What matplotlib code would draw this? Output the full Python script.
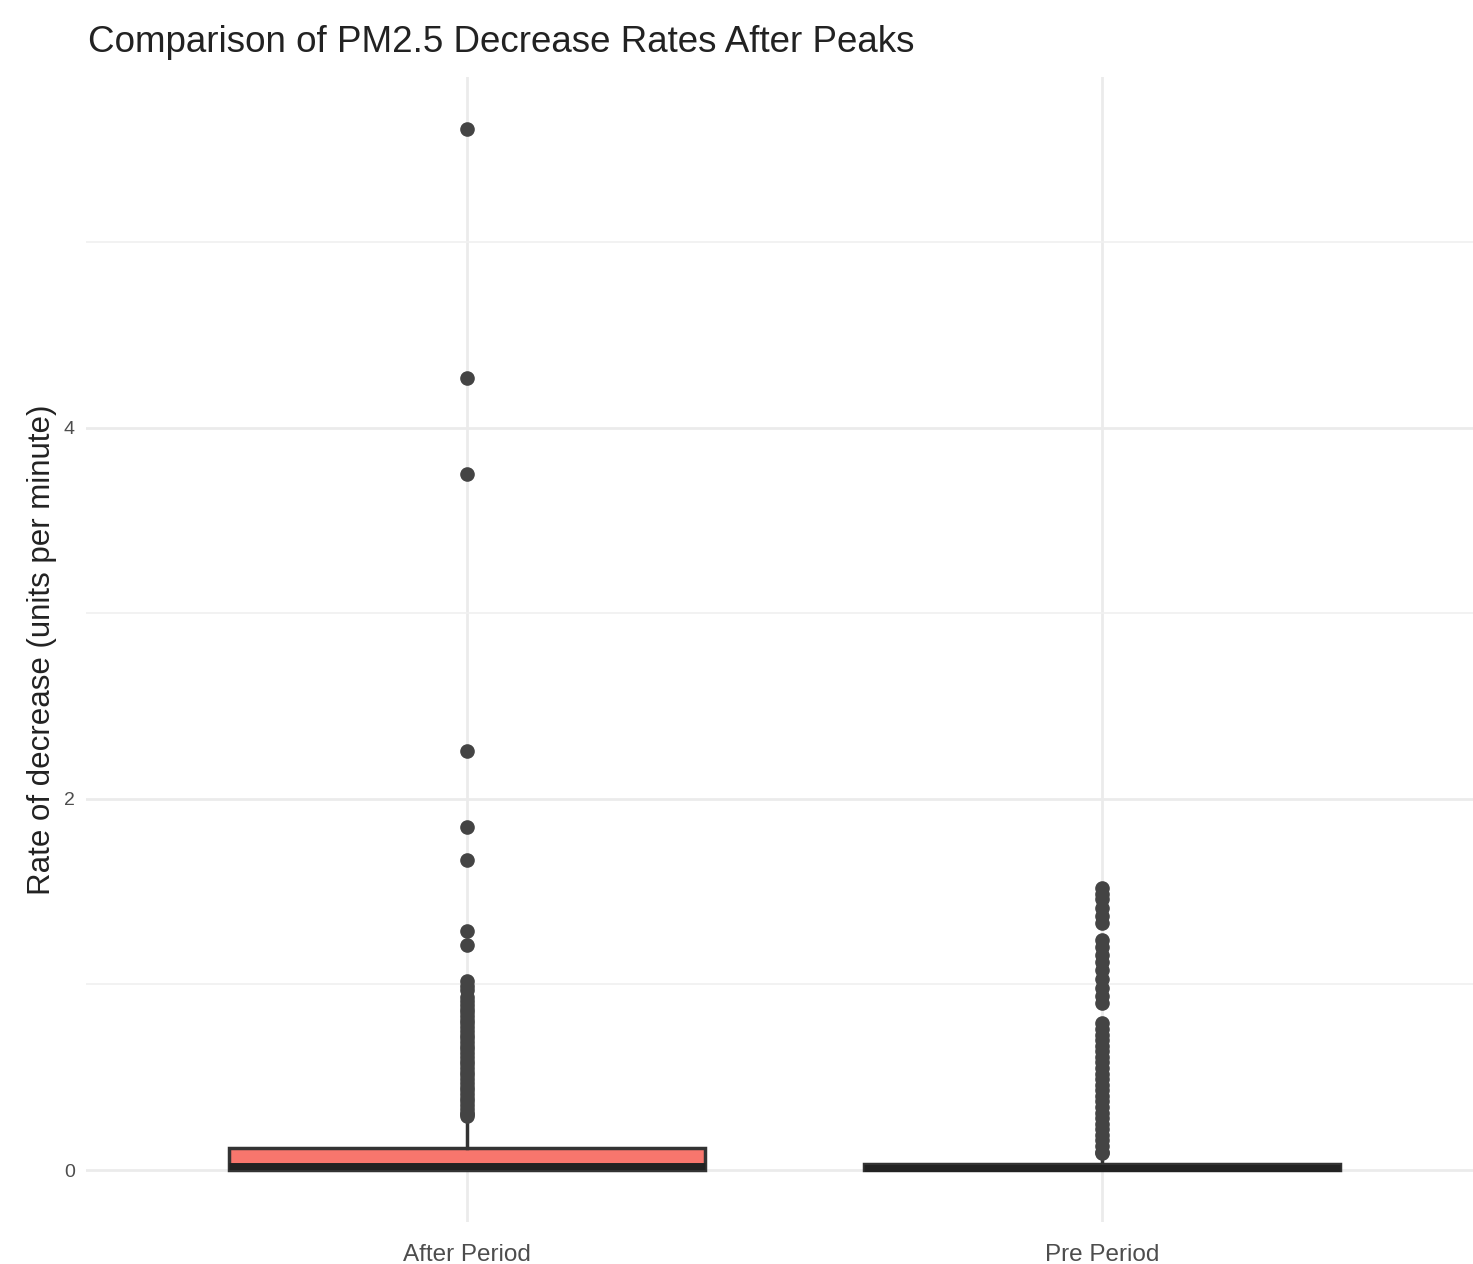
import matplotlib.pyplot as plt
import numpy as np

plt.rcParams['font.family'] = ['Liberation Sans', 'DejaVu Sans']

categories = ["After Period", "Pre Period"]

# box statistics
q1 = [0.003, 0.0]
med = [0.022, 0.012]
q3 = [0.12, 0.035]
whislo = [0.0, 0.0]
whishi = [0.28, 0.08]

after_outliers = [5.61, 4.27, 3.75, 2.26, 1.85, 1.67, 1.29, 1.21, 1.02, 0.99,
                  0.97, 0.93, 0.91, 0.89, 0.87, 0.85, 0.83, 0.81, 0.79, 0.77,
                  0.75, 0.73, 0.71, 0.69, 0.67, 0.65, 0.63, 0.61, 0.59, 0.57,
                  0.55, 0.53, 0.51, 0.49, 0.47, 0.45, 0.43, 0.41, 0.39, 0.37,
                  0.35, 0.33, 0.31, 0.30, 0.29]
pre_outliers = [1.52, 1.49, 1.46, 1.41, 1.37, 1.33, 1.24, 1.20, 1.16, 1.12,
                1.08, 1.03, 0.98, 0.94, 0.90, 0.79, 0.76, 0.73, 0.70, 0.67,
                0.64, 0.61, 0.58, 0.55, 0.52, 0.49, 0.46, 0.43, 0.40, 0.37,
                0.34, 0.31, 0.28, 0.25, 0.22, 0.19, 0.16, 0.13, 0.10, 0.09]
outliers = [after_outliers, pre_outliers]

stats = []
for i, name in enumerate(categories):
    stats.append(dict(label=name, q1=q1[i], med=med[i], q3=q3[i],
                      whislo=whislo[i], whishi=whishi[i], fliers=outliers[i]))

fig = plt.figure(figsize=(14.73, 12.64), dpi=100)
ax = fig.add_axes([0.0584, 0.0332, 0.9484, 0.906])

ax.bxp(stats, positions=[1, 2], widths=0.75, patch_artist=True,
       showcaps=False,
       boxprops=dict(facecolor="#F8766D", edgecolor="#333333", linewidth=2.5),
       medianprops=dict(color="#222222", linewidth=5),
       whiskerprops=dict(color="#333333", linewidth=2.5),
       flierprops=dict(marker="o", markerfacecolor="#444444",
                       markeredgecolor="#444444", markersize=9.5))

ax.set_xlim(0.4, 2.6)
ax.set_ylim(-0.28, 5.89)
ax.set_yticks([0, 2, 4])
ax.set_yticks([1, 3, 5], minor=True)
ax.set_xticks([1, 2])
ax.set_xticklabels(categories)

ax.grid(True, which="major", color="#EBEBEB", linewidth=2)
ax.grid(True, which="minor", axis="y", color="#F0F0F0", linewidth=1.2)
ax.set_axisbelow(True)
for s in ax.spines.values():
    s.set_visible(False)
ax.tick_params(which="both", length=0, labelcolor="#4D4D4D")
ax.tick_params(axis="x", labelsize=17.5, pad=16)
ax.tick_params(axis="y", labelsize=14, pad=8)

ax.set_ylabel("Rate of decrease (units per minute)", fontsize=22.5,
              color="#222222", labelpad=5)
fig.text(0.06, 0.966, "Comparison of PM2.5 Decrease Rates After Peaks",
         fontsize=26.5, color="#222222", va="center", ha="left")

fig.savefig("out.png", dpi=100)
